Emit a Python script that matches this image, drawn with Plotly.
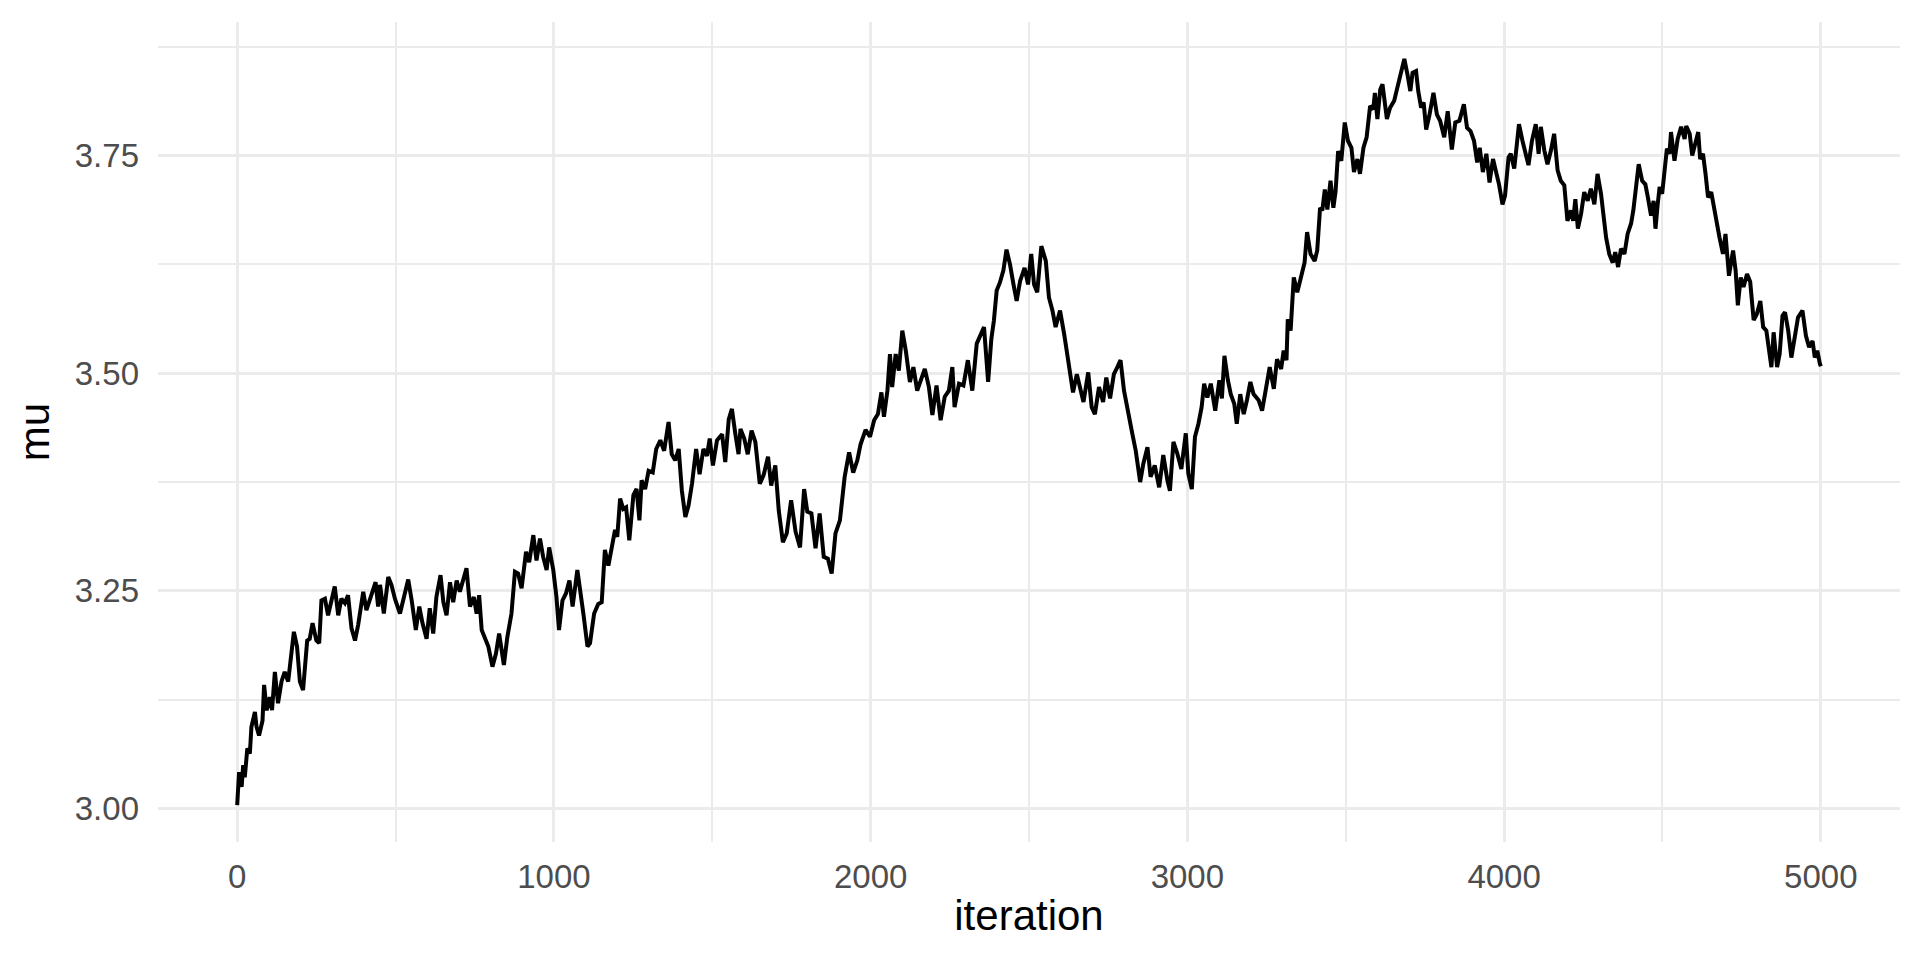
import plotly.graph_objects as go

# MCMC trace of mu
iteration = [
    0, 6, 14, 19, 24, 32, 40, 45, 56, 61, 69, 80, 85, 93, 103, 110, 119, 129, 140, 150,
    161, 168, 179, 189, 198, 208, 221, 229, 238, 250, 259, 266, 277, 287, 298, 308, 319, 329, 340, 350,
    361, 372, 382, 398, 408, 424, 437, 445, 451, 463, 477, 487, 498, 514, 524, 540, 551, 564, 575, 585,
    598, 608, 619, 629, 642, 651, 661, 672, 682, 693, 703, 714, 724, 735, 747, 756, 764, 772, 782, 793,
    806, 817, 827, 842, 853, 866, 877, 887, 898, 912, 922, 935, 945, 956, 966, 977, 985, 998,
    1008, 1016, 1027, 1038, 1049, 1059, 1074, 1082, 1093, 1106, 1114, 1127, 1140, 1151, 1161, 1172, 1183, 1193, 1200, 1209,
    1219, 1228, 1238, 1251, 1261, 1270, 1277, 1288, 1299, 1312, 1323, 1336, 1348, 1362, 1372, 1383, 1394, 1404, 1415, 1425,
    1436, 1449, 1460, 1472, 1483, 1492, 1502, 1515, 1531, 1541, 1552, 1562, 1573, 1583, 1589, 1601, 1612, 1624, 1636, 1650,
    1662, 1676, 1686, 1699, 1710, 1723, 1735, 1749, 1763, 1777, 1790, 1800, 1813, 1826, 1839, 1852, 1865, 1877, 1889, 1903,
    1918, 1932, 1945, 1958, 1968, 1984, 1998,
    2011, 2023, 2034, 2042, 2053, 2061, 2068, 2079, 2089, 2100, 2111, 2124, 2135, 2147, 2160, 2171, 2184, 2195, 2208, 2221,
    2234, 2247, 2258, 2265, 2279, 2293, 2307, 2321, 2335, 2347, 2358, 2371, 2381, 2389, 2398, 2408, 2419, 2429, 2440, 2451,
    2461, 2472, 2486, 2497, 2507, 2516, 2526, 2539, 2553, 2563, 2574, 2584, 2598, 2611, 2621, 2632, 2639, 2651, 2661, 2672,
    2687, 2698, 2708, 2721, 2734, 2744, 2756, 2768, 2779, 2789, 2800, 2814, 2826, 2837, 2851, 2861, 2874, 2884, 2897, 2911,
    2924, 2937, 2945, 2956, 2968, 2981, 2995,
    3003, 3014, 3024, 3035, 3045, 3053, 3063, 3074, 3088, 3101, 3109, 3117, 3128, 3137, 3148, 3156, 3167, 3178, 3188, 3199,
    3209, 3225, 3236, 3246, 3260, 3273, 3283, 3296, 3304, 3313, 3317, 3326, 3336, 3347, 3357, 3366, 3370, 3378, 3389, 3402,
    3410, 3419, 3426, 3434, 3442, 3452, 3461, 3468, 3476, 3486, 3497, 3507, 3518, 3526, 3537, 3545, 3556, 3566, 3577, 3587,
    3592, 3600, 3609, 3616, 3630, 3640, 3653, 3663, 3674, 3685, 3695, 3704, 3711, 3722, 3729, 3738, 3746, 3754, 3764, 3777,
    3788, 3798, 3811, 3822, 3835, 3846, 3859, 3873, 3883, 3894, 3905, 3915, 3923, 3933, 3944, 3954, 3965,
    3984, 3995, 4003, 4014, 4021, 4032, 4039, 4047, 4058, 4069, 4077, 4088, 4100, 4109, 4116, 4127, 4137, 4148, 4158, 4169,
    4179, 4190, 4200, 4211, 4218, 4225, 4233, 4243, 4253, 4264, 4274, 4285, 4295, 4306, 4313, 4322, 4332, 4343, 4351, 4360,
    4369, 4380, 4390, 4401, 4408, 4417, 4425, 4436, 4446, 4454, 4464, 4472, 4478, 4485, 4491, 4499, 4506, 4514, 4522, 4527,
    4538, 4548, 4559, 4570, 4575, 4586, 4594, 4605, 4613, 4619, 4628, 4636, 4644, 4654, 4665, 4672, 4680, 4691, 4699, 4710,
    4723, 4731, 4738, 4747, 4756, 4767, 4777, 4788, 4798, 4809, 4818, 4828, 4837, 4844, 4851, 4862, 4870, 4879, 4887, 4897,
    4907, 4916, 4928, 4942, 4953, 4963, 4974, 4981, 4989, 4997, 5000,
]

mu = [
    3.004, 3.042, 3.025, 3.050, 3.036, 3.069, 3.063, 3.094, 3.111, 3.094, 3.084, 3.101, 3.142, 3.113, 3.128, 3.113, 3.157, 3.121, 3.146, 3.157,
    3.146, 3.170, 3.203, 3.186, 3.146, 3.136, 3.193, 3.195, 3.213, 3.193, 3.190, 3.239, 3.241, 3.222, 3.239, 3.255, 3.222, 3.241, 3.236, 3.245,
    3.207, 3.193, 3.211, 3.249, 3.228, 3.247, 3.260, 3.232, 3.257, 3.224, 3.266, 3.257, 3.241, 3.224, 3.239, 3.263, 3.239, 3.205, 3.232, 3.213,
    3.195, 3.230, 3.201, 3.243, 3.268, 3.237, 3.222, 3.260, 3.237, 3.262, 3.249, 3.262, 3.276, 3.232, 3.243, 3.224, 3.245, 3.205, 3.195, 3.186,
    3.163, 3.178, 3.201, 3.165, 3.197, 3.224, 3.272, 3.270, 3.253, 3.295, 3.283, 3.314, 3.285, 3.310, 3.289, 3.274, 3.300, 3.274,
    3.243, 3.205, 3.239, 3.247, 3.262, 3.232, 3.274, 3.255, 3.224, 3.186, 3.190, 3.224, 3.235, 3.237, 3.297, 3.279, 3.304, 3.320, 3.312, 3.356,
    3.344, 3.346, 3.308, 3.360, 3.367, 3.331, 3.377, 3.367, 3.388, 3.386, 3.413, 3.423, 3.411, 3.444, 3.407, 3.400, 3.413, 3.365, 3.335, 3.348,
    3.373, 3.413, 3.384, 3.413, 3.405, 3.425, 3.394, 3.423, 3.430, 3.398, 3.447, 3.459, 3.430, 3.407, 3.436, 3.425, 3.407, 3.434, 3.421, 3.373,
    3.383, 3.404, 3.371, 3.394, 3.342, 3.306, 3.316, 3.354, 3.318, 3.300, 3.367, 3.341, 3.339, 3.299, 3.339, 3.289, 3.287, 3.270, 3.316, 3.331,
    3.381, 3.409, 3.386, 3.400, 3.418, 3.435, 3.427,
    3.446, 3.453, 3.478, 3.450, 3.480, 3.522, 3.484, 3.522, 3.503, 3.549, 3.526, 3.490, 3.507, 3.480, 3.495, 3.505, 3.484, 3.452, 3.486, 3.446,
    3.473, 3.480, 3.507, 3.461, 3.488, 3.486, 3.515, 3.480, 3.534, 3.545, 3.553, 3.490, 3.539, 3.560, 3.595, 3.604, 3.618, 3.642, 3.625, 3.602,
    3.583, 3.606, 3.621, 3.602, 3.637, 3.602, 3.593, 3.646, 3.629, 3.587, 3.572, 3.553, 3.572, 3.545, 3.522, 3.495, 3.478, 3.499, 3.484, 3.467,
    3.501, 3.461, 3.453, 3.484, 3.467, 3.495, 3.471, 3.499, 3.507, 3.515, 3.480, 3.450, 3.431, 3.411, 3.375, 3.396, 3.415, 3.381, 3.394, 3.369,
    3.406, 3.377, 3.365, 3.421, 3.408, 3.390, 3.431,
    3.385, 3.367, 3.427, 3.442, 3.461, 3.488, 3.472, 3.488, 3.457, 3.492, 3.471, 3.520, 3.492, 3.476, 3.465, 3.442, 3.476, 3.453, 3.469, 3.490,
    3.476, 3.469, 3.457, 3.480, 3.507, 3.482, 3.516, 3.505, 3.526, 3.515, 3.562, 3.549, 3.610, 3.593, 3.610, 3.622, 3.627, 3.662, 3.637, 3.629,
    3.641, 3.690, 3.687, 3.711, 3.688, 3.721, 3.690, 3.709, 3.755, 3.744, 3.788, 3.767, 3.759, 3.731, 3.746, 3.729, 3.759, 3.771, 3.807, 3.803,
    3.822, 3.792, 3.826, 3.832, 3.792, 3.805, 3.813, 3.828, 3.843, 3.861, 3.843, 3.824, 3.845, 3.847, 3.824, 3.805, 3.811, 3.780, 3.796, 3.822,
    3.797, 3.790, 3.771, 3.801, 3.757, 3.788, 3.790, 3.809, 3.782, 3.778, 3.767, 3.742, 3.759, 3.731, 3.752, 3.719, 3.746,
    3.717, 3.694, 3.704, 3.748, 3.752, 3.735, 3.760, 3.786, 3.767, 3.752, 3.739, 3.767, 3.786, 3.752, 3.783, 3.756, 3.740, 3.756, 3.775, 3.733,
    3.721, 3.716, 3.675, 3.687, 3.675, 3.700, 3.666, 3.683, 3.708, 3.698, 3.712, 3.694, 3.729, 3.706, 3.681, 3.656, 3.637, 3.627, 3.639, 3.622,
    3.643, 3.637, 3.660, 3.672, 3.687, 3.721, 3.740, 3.721, 3.717, 3.702, 3.681, 3.698, 3.666, 3.694, 3.714, 3.706, 3.733, 3.758, 3.752, 3.777,
    3.744, 3.769, 3.783, 3.769, 3.784, 3.775, 3.750, 3.765, 3.777, 3.746, 3.752, 3.729, 3.702, 3.708, 3.683, 3.673, 3.656, 3.637, 3.660, 3.612,
    3.641, 3.618, 3.578, 3.610, 3.599, 3.614, 3.605, 3.561, 3.568, 3.583, 3.553, 3.549, 3.528, 3.507, 3.547, 3.507, 3.522, 3.566, 3.570, 3.549,
    3.518, 3.541, 3.564, 3.572, 3.543, 3.530, 3.537, 3.518, 3.526, 3.511, 3.508,
]

x_ticks = [0, 1000, 2000, 3000, 4000, 5000]
y_ticks = [3.00, 3.25, 3.50, 3.75]
y_tick_text = ["3.00", "3.25", "3.50", "3.75"]

grid = "#EBEBEB"
tick_font = dict(family="Liberation Sans", size=33, color="#4D4D4D")
title_font = dict(family="Liberation Sans", size=42, color="black")

fig = go.Figure()

fig.add_trace(go.Scatter(
    x=iteration,
    y=mu,
    mode="lines",
    line=dict(color="black", width=4),
    showlegend=False,
))

fig.update_xaxes(
    range=[-250, 5250],
    tickvals=x_ticks,
    ticktext=[str(v) for v in x_ticks],
    showgrid=True, gridcolor=grid, gridwidth=3,
    minor=dict(showgrid=True, gridcolor=grid, gridwidth=1.5, dtick=500, tick0=0),
    zeroline=False, showline=False, ticks="",
    tickfont=tick_font, ticklabelstandoff=12,
    title=dict(text="iteration", font=title_font, standoff=6),
)

fig.update_yaxes(
    range=[2.9616, 3.9034],
    tickvals=y_ticks,
    ticktext=y_tick_text,
    showgrid=True, gridcolor=grid, gridwidth=3,
    minor=dict(showgrid=True, gridcolor=grid, gridwidth=1.5, dtick=0.125, tick0=3.0),
    zeroline=False, showline=False, ticks="",
    tickfont=tick_font, ticklabelstandoff=18,
    title=dict(text="mu", font=title_font, standoff=12),
)

# the page body adds an 8px offset, so the figure is sized to fit inside it
fig.update_layout(
    width=1904,
    height=944,
    paper_bgcolor="white",
    plot_bgcolor="white",
    margin=dict(l=150, r=12, t=14, b=110),
    font=dict(family="Liberation Sans"),
)

fig.write_html("out.html")
